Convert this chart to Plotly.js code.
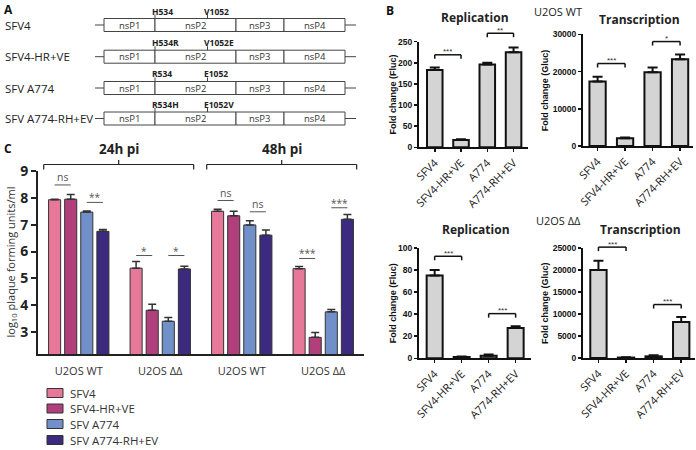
<!DOCTYPE html>
<html><head><meta charset="utf-8">
<script src="https://cdn.plot.ly/plotly-3.0.1.min.js"></script>
<style>html,body{margin:0;padding:0;background:#fff}#chart{width:696px;height:450px}</style>
</head><body><div id="chart"></div>
<script>
// ---------- Panel C data ----------
const cCategories = ['U2OS WT', 'U2OS ΔΔ', 'U2OS WT', 'U2OS ΔΔ'];
const cTimepoints = ['24h pi', '48h pi'];
const seriesNames = ['SFV4', 'SFV4-HR+VE', 'SFV A774', 'SFV A774-RH+EV'];
const seriesColors = ['#E8789A', '#B13F7C', '#7190CA', '#3B2A7E'];
const cSFV4 = [7.93, 5.38, 7.50, 5.36];
const cSFV4err = [0.02, 0.25, 0.07, 0.08];
const cHRVE = [7.95, 3.81, 7.33, 2.80];
const cHRVEerr = [0.17, 0.22, 0.17, 0.18];
const cA774 = [7.47, 3.40, 6.99, 3.75];
const cA774err = [0.04, 0.14, 0.16, 0.09];
const cRHEV = [6.75, 5.35, 6.61, 7.20];
const cRHEVerr = [0.07, 0.10, 0.19, 0.18];
const cYTicks = [3, 4, 5, 6, 7, 8, 9];
// [group, seriesA, seriesB, y, label]
const cSig = [[0,0,1,8.48,'ns'],[0,2,3,7.83,'**'],[1,0,1,5.85,'*'],[1,2,3,5.85,'*'],
              [2,0,1,7.90,'ns'],[2,2,3,7.48,'ns'],[3,0,1,5.74,'***'],[3,2,3,7.63,'***']];

// ---------- Panel B data ----------
const bCategories = ['SFV4', 'SFV4-HR+VE', 'A774', 'A774-RH+EV'];
const bRepWT = [183, 17, 196, 225];
const bRepWTerr = [6, 2, 4, 11];
const bTrWT = [17300, 2050, 19800, 23300];
const bTrWTerr = [1300, 250, 1300, 1300];
const bRepDD = [75, 1.2, 2.4, 27.5];
const bRepDDerr = [5, 0.4, 1, 1.5];
const bTrDD = [20000, 100, 380, 8200];
const bTrDDerr = [2100, 60, 250, 1100];
const bRepWTsig = [[0,1,219,'***'],[2,3,270,'**']];
const bTrWTsig = [[0,1,22150,'***'],[2,3,28050,'*']];
const bRepDDsig = [[0,1,92.5,'***'],[2,3,40.5,'***']];
const bTrDDsig = [[0,1,25200,'***'],[2,3,12150,'***']];

// ---------- Panel A data ----------
const aNames = ['SFV4', 'SFV4-HR+VE', 'SFV A774', 'SFV A774-RH+EV'];
const aMut534 = ['H534', 'H534R', 'R534', 'R534H'];
const aMut1052 = ['V1052', 'V1052E', 'E1052', 'E1052V'];
const aProteins = ['nsP1', 'nsP2', 'nsP3', 'nsP4'];

// ---------- geometry ----------
const W = 696, H = 450;
const px = x => x / W, py = y => 1 - y / H;
const AX = {
  c:  {x0:38,  x1:364,   yb:354,   yt:171,  xr:[-0.5,3.5],   yr:[2.18,9]},
  b1: {x0:419, x1:528,   yb:147.3, yt:41.7, xr:[-0.6,3.55],  yr:[0,250]},
  b2: {x0:583, x1:693,   yb:146,   yt:34.3, xr:[-0.53,3.47], yr:[0,30000]},
  b3: {x0:419, x1:530.5, yb:358.3, yt:248,  xr:[-0.58,3.55], yr:[0,100]},
  b4: {x0:583, x1:695,   yb:358,   yt:248,  xr:[-0.56,3.5],  yr:[0,25000]}
};
const dx = (a, v) => a.x0 + (v - a.xr[0]) / (a.xr[1] - a.xr[0]) * (a.x1 - a.x0);
const dy = (a, v) => a.yb - (v - a.yr[0]) / (a.yr[1] - a.yr[0]) * (a.yb - a.yt);

const bargap = 0.21, bargroupgap = 0.25;
const nS = seriesNames.length;
const slot = (1 - bargap) / nS;
const off = k => -(1 - bargap) / 2 + slot * (k + 0.5);

const OS = 'Open Sans, sans-serif';
const AR = 'Liberation Sans, Arial, sans-serif';
const shapes = [], annotations = [];
function seg(x0, y0, x1, y1, color, width) {
  shapes.push({type:'line', xref:'paper', yref:'paper', x0:px(x0), y0:py(y0), x1:px(x1), y1:py(y1),
    line:{color:color, width:width}});
}
function rect(x0, y0, x1, y1, fill, color, width) {
  shapes.push({type:'rect', xref:'paper', yref:'paper', x0:px(x0), y0:py(y0), x1:px(x1), y1:py(y1),
    fillcolor:fill, line:{color:color, width:width}});
}
function ann(x, y, text, font, xanchor, extra) {
  annotations.push(Object.assign({xref:'paper', yref:'paper', x:px(x), y:py(y), text:text, showarrow:false,
    xanchor:xanchor || 'center', yanchor:'middle', font:font, borderpad:0}, extra || {}));
}

// ---------- traces ----------
const cVals = [cSFV4, cHRVE, cA774, cRHEV];
const cErrs = [cSFV4err, cHRVEerr, cA774err, cRHEVerr];
const traces = [];
const idx = [0, 1, 2, 3];
cVals.forEach((vals, k) => {
  traces.push({type:'bar', x:idx, y:vals, name:seriesNames[k], xaxis:'x', yaxis:'y',
    marker:{color:seriesColors[k], line:{color:'#333', width:1}},
    error_y:{type:'data', symmetric:false, array:cErrs[k], arrayminus:[0,0,0,0], color:'#333', thickness:1.5, width:4},
    showlegend:false, hoverinfo:'skip'});
});
const bSets = [[bRepWT, bRepWTerr, 'x2', 'y2'], [bTrWT, bTrWTerr, 'x3', 'y3'],
               [bRepDD, bRepDDerr, 'x4', 'y4'], [bTrDD, bTrDDerr, 'x5', 'y5']];
bSets.forEach(s => {
  traces.push({type:'bar', x:idx, y:s[0], xaxis:s[2], yaxis:s[3],
    marker:{color:'#D4D4D4', line:{color:'#111', width:2}},
    error_y:{type:'data', symmetric:false, array:s[1], arrayminus:[0,0,0,0], color:'#111', thickness:2, width:5},
    showlegend:false, hoverinfo:'skip'});
});

// ---------- axes ----------
function xAx(a, anchor, c) {
  return Object.assign({domain:[px(a.x0), px(a.x1)], range:a.xr, anchor:anchor, showgrid:false, zeroline:false,
    showline:true, linewidth:2, linecolor:'#111', fixedrange:true, tickvals:idx}, c);
}
function yAx(a, anchor, c) {
  return Object.assign({domain:[py(a.yb), py(a.yt)], range:a.yr, anchor:anchor, showgrid:false, zeroline:false,
    showline:true, linewidth:2, linecolor:'#111', fixedrange:true, ticks:'outside'}, c);
}
const bxCommon = {ticktext:bCategories, ticks:'outside', ticklen:3, tickwidth:1.5, tickcolor:'#111',
  tickangle:-45, tickfont:{family:OS, size:11, color:'#222'}};
const byCommon = {ticklen:3, tickwidth:1.5, tickcolor:'#111', tickformat:'d',
  tickfont:{family:AR, size:8.5, color:'#111', weight:700}};

const layout = {
  width:W, height:H, margin:{l:0, r:0, t:0, b:0}, paper_bgcolor:'#fff', plot_bgcolor:'rgba(0,0,0,0)',
  barmode:'group', bargap:bargap, bargroupgap:bargroupgap, showlegend:false,
  xaxis: xAx(AX.c, 'y', {ticktext:cCategories, ticks:'outside', ticklen:6, tickcolor:'rgba(0,0,0,0)',
    tickfont:{family:OS, size:11, color:'#333'}, linecolor:'#222'}),
  yaxis: yAx(AX.c, 'x', {tickvals:cYTicks, ticklen:5, tickwidth:2, tickcolor:'#222', linecolor:'#222',
    tickfont:{family:OS, size:14, color:'#222', weight:700}}),
  xaxis2: xAx(AX.b1, 'y2', bxCommon), yaxis2: yAx(AX.b1, 'x2', Object.assign({dtick:50}, byCommon)),
  xaxis3: xAx(AX.b2, 'y3', bxCommon), yaxis3: yAx(AX.b2, 'x3', Object.assign({dtick:10000}, byCommon)),
  xaxis4: xAx(AX.b3, 'y4', bxCommon), yaxis4: yAx(AX.b3, 'x4', Object.assign({dtick:20}, byCommon)),
  xaxis5: xAx(AX.b4, 'y5', bxCommon), yaxis5: yAx(AX.b4, 'x5', Object.assign({dtick:5000}, byCommon)),
  shapes:shapes, annotations:annotations
};

// ---------- Panel A diagram ----------
const aRowY = [25, 56.7, 88, 118.5];
const aBounds = [104, 155, 236, 284, 345];
aNames.forEach((nm, r) => {
  const yc = aRowY[r];
  ann(4, yc, nm, {family:OS, size:11.5, color:'#222'}, 'left');
  seg(95, yc, aBounds[0], yc, '#444', 1);
  seg(aBounds[4], yc, 356, yc, '#444', 1);
  aProteins.forEach((p, d) => {
    rect(aBounds[d], yc - 6.5, aBounds[d + 1], yc + 6.5, '#fff', '#444', 1);
    ann((aBounds[d] + aBounds[d + 1]) / 2, yc, p, {family:OS, size:9.5, color:'#333'});
  });
  seg(155, yc - 6.5, 155, yc - 10.5, '#444', 1);
  seg(207.5, yc - 6.5, 207.5, yc - 10.5, '#444', 1);
  ann(151, yc - 14, aMut534[r], {family:OS, size:8.5, color:'#222', weight:700}, 'left');
  ann(203, yc - 14, aMut1052[r], {family:OS, size:8.5, color:'#222', weight:700}, 'left');
});

// ---------- panel letters ----------
ann(3, 9, 'A', {family:OS, size:12, color:'#111', weight:700}, 'left');
ann(385, 10, 'B', {family:OS, size:12, color:'#111', weight:700}, 'left');
ann(3, 148, 'C', {family:OS, size:12, color:'#111', weight:700}, 'left');

// ---------- Panel C annotations ----------
const c = AX.c;
ann(10, (c.yb + c.yt) / 2, 'log<sub>10</sub> plaque forming units/ml', {family:OS, size:11, color:'#333'}, 'center', {textangle:-90});
cSig.forEach(s => {
  const xa = dx(c, s[0] + off(s[1])), xb = dx(c, s[0] + off(s[2])), y = dy(c, s[3]);
  seg(xa, y, xb, y, '#555', 1);
  ann((xa + xb) / 2, y - (s[4] === 'ns' ? 8 : 5), s[4], {family:OS, size:s[4] === 'ns' ? 10.5 : 10, color:'#555'});
});
cTimepoints.forEach((t, i) => {
  const xa = dx(c, 2 * i - 0.43), xb = dx(c, 2 * i + 1 + 0.41), xm = (xa + xb) / 2;
  seg(xa, 164.5, xb, 164.5, '#222', 1.2);
  seg(xa, 164.5, xa, 169.5, '#222', 1.2);
  seg(xb, 164.5, xb, 169.5, '#222', 1.2);
  seg(xm, 164.5, xm, 160, '#222', 1.2);
  ann(xm, 149, t, {family:OS, size:13.5, color:'#222', weight:700});
});
// legend
const legY = [393, 408.5, 424, 440];
seriesNames.forEach((nm, k) => {
  rect(47, legY[k] - 4.5, 63, legY[k] + 4.5, seriesColors[k], '#333', 1);
  ann(69, legY[k], nm, {family:OS, size:11.5, color:'#333'}, 'left');
});

// ---------- Panel B annotations ----------
ann(558, 12, 'U2OS WT', {family:OS, size:11, color:'#222'});
ann(558, 220, 'U2OS ΔΔ', {family:OS, size:11, color:'#222'});
const bPanels = [
  [AX.b1, 'Replication', 'Fold change (Fluc)', bRepWTsig, 17.5, 393],
  [AX.b2, 'Transcription', 'Fold change (Gluc)', bTrWTsig, 19, 545],
  [AX.b3, 'Replication', 'Fold change (Fluc)', bRepDDsig, 230, 393],
  [AX.b4, 'Transcription', 'Fold change (Gluc)', bTrDDsig, 230, 545]
];
bPanels.forEach(p => {
  const a = p[0];
  ann((dx(a, 0) + dx(a, 3)) / 2 + 1, p[4], p[1], {family:OS, size:12, color:'#222', weight:700});
  ann(p[5], (a.yb + a.yt) / 2, p[2], {family:AR, size:9, color:'#111', weight:700}, 'center', {textangle:-90});
  p[3].forEach(s => {
    const xa = dx(a, s[0]), xb = dx(a, s[1]), y = dy(a, s[2]);
    seg(xa, y, xb, y, '#111', 1.5);
    seg(xa, y, xa, y + 4, '#111', 1.5);
    seg(xb, y, xb, y + 4, '#111', 1.5);
    ann((xa + xb) / 2, y - 3, s[3], {family:AR, size:8, color:'#333'});
  });
});

Plotly.newPlot('chart', traces, layout, {staticPlot:true, displayModeBar:false});
</script>
</body></html>
